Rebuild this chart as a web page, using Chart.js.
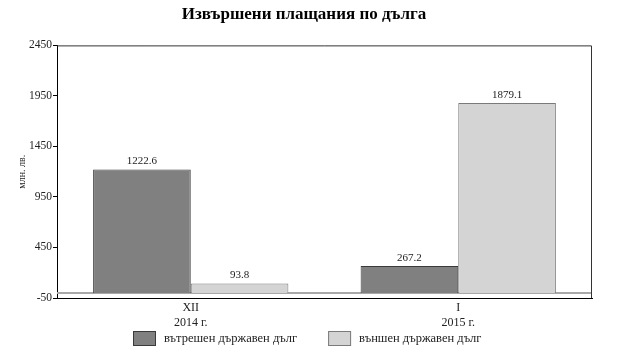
<!DOCTYPE html>
<html>
<head>
<meta charset="utf-8">
<title>Извършени плащания по дълга</title>
<script src="https://cdn.jsdelivr.net/npm/chart.js@4/dist/chart.umd.min.js"></script>
<style>
    body { margin: 0; background: #fff; }
    canvas { display: block; background: #fff; }
</style>
</head>
<body>
<canvas id="debtChart" width="635" height="353"></canvas>
<script>
// Chart data
const categories = [['XII', '2014 г.'], ['I', '2015 г.']];
const seriesNames = ['вътрешен държавен дълг', 'външен държавен дълг'];
const domesticDebt = [1222.6, 267.2];
const foreignDebt = [93.8, 1879.1];
const yTicks = [-50, 450, 950, 1450, 1950, 2450];

const FONT = "'Liberation Serif', 'Times New Roman', serif";

/**
 * Value labels above each bar
 */
const valueLabels = {
    id: 'valueLabels',
    afterDatasetsDraw(chart) {
        const ctx = chart.ctx;
        ctx.save();
        ctx.font = '11px ' + FONT;
        ctx.fillStyle = '#222';
        ctx.textAlign = 'center';
        ctx.textBaseline = 'alphabetic';
        chart.data.datasets.forEach((ds, i) => {
            chart.getDatasetMeta(i).data.forEach((bar, j) => {
                ctx.fillText(ds.data[j].toFixed(1), bar.x, bar.y - 5);
            });
        });
        ctx.restore();
    }
};

/**
 * Zero line and the top/right frame of the plot
 */
const plotFrame = {
    id: 'plotFrame',
    beforeDatasetsDraw(chart) {
        const {ctx, chartArea} = chart;
        const y0 = chart.scales.y.getPixelForValue(0);
        ctx.save();
        ctx.strokeStyle = '#a8a8a8';
        ctx.lineWidth = 2;
        ctx.beginPath();
        ctx.moveTo(chartArea.left, y0);
        ctx.lineTo(chartArea.right, y0);
        ctx.stroke();
        ctx.restore();
    },
    afterDraw(chart) {
        const {ctx, chartArea} = chart;
        ctx.save();
        ctx.strokeStyle = '#333';
        ctx.lineWidth = 1;
        ctx.beginPath();
        ctx.moveTo(chartArea.left, chartArea.top + 0.5);
        ctx.lineTo(chartArea.right - 0.5, chartArea.top + 0.5);
        ctx.lineTo(chartArea.right - 0.5, chartArea.bottom);
        ctx.stroke();
        ctx.restore();
    }
};

/**
 * Legend row under the axis
 */
const bottomLegend = {
    id: 'bottomLegend',
    afterDraw(chart) {
        const ctx = chart.ctx;
        const boxW = 23, boxH = 15, textGap = 8, itemGap = 31;
        const centerX = 307, top = 331;
        ctx.save();
        ctx.font = '12.5px ' + FONT;
        const widths = chart.data.datasets.map(ds => boxW + textGap + ctx.measureText(ds.label).width);
        const total = widths.reduce((a, b) => a + b, 0) + itemGap * (widths.length - 1);
        let x = Math.round(centerX - total / 2);
        chart.data.datasets.forEach((ds, i) => {
            ctx.fillStyle = ds.backgroundColor;
            ctx.strokeStyle = ds.borderColor;
            ctx.lineWidth = 1;
            ctx.fillRect(x, top, boxW, boxH);
            ctx.strokeRect(x + 0.5, top + 0.5, boxW - 1, boxH - 1);
            ctx.fillStyle = '#222';
            ctx.textBaseline = 'middle';
            ctx.textAlign = 'left';
            ctx.fillText(ds.label, x + boxW + textGap, top + boxH / 2);
            x += widths[i] + itemGap;
        });
        ctx.restore();
    }
};

const ctx = document.getElementById('debtChart').getContext('2d');
new Chart(ctx, {
    type: 'bar',
    data: {
        labels: categories,
        datasets: [{
            label: seriesNames[0],
            data: domesticDebt,
            backgroundColor: '#808080',
            borderColor: '#3a3a3a',
            borderWidth: 1
        }, {
            label: seriesNames[1],
            data: foreignDebt,
            backgroundColor: '#d4d4d4',
            borderColor: '#7a7a7a',
            borderWidth: 1
        }]
    },
    options: {
        responsive: false,
        animation: false,
        categoryPercentage: 0.73,
        barPercentage: 1.0,
        layout: {
            padding: { left: 16, right: 43, top: 0, bottom: 22 }
        },
        plugins: {
            legend: { display: false },
            tooltip: { enabled: false },
            title: {
                display: true,
                text: 'Извършени плащания по дълга',
                color: '#000',
                font: { family: FONT, size: 17, weight: 'bold' },
                padding: { top: 4, bottom: 21 }
            }
        },
        scales: {
            x: {
                grid: { display: false, drawTicks: false, tickLength: 0 },
                border: { display: true, color: '#000', width: 1 },
                ticks: {
                    color: '#222',
                    font: { family: FONT, size: 12, lineHeight: 1.2 },
                    padding: 3,
                    maxRotation: 0
                },
                afterFit(scale) { scale.height = 33; }
            },
            y: {
                min: -50,
                max: 2450,
                afterBuildTicks(scale) {
                    scale.ticks = yTicks.map(v => ({ value: v }));
                },
                grid: {
                    display: true,
                    drawOnChartArea: false,
                    drawTicks: true,
                    tickLength: 4,
                    tickColor: '#000'
                },
                border: { display: true, color: '#000', width: 1 },
                ticks: {
                    color: '#222',
                    font: { family: FONT, size: 11.5 },
                    padding: 1,
                    callback: value => String(value)
                },
                title: {
                    display: true,
                    text: 'млн. лв.',
                    color: '#222',
                    font: { family: FONT, size: 10 },
                    padding: 0
                },
                afterFit(scale) { scale.width = 41; }
            }
        }
    },
    plugins: [plotFrame, valueLabels, bottomLegend]
});
</script>
</body>
</html>
